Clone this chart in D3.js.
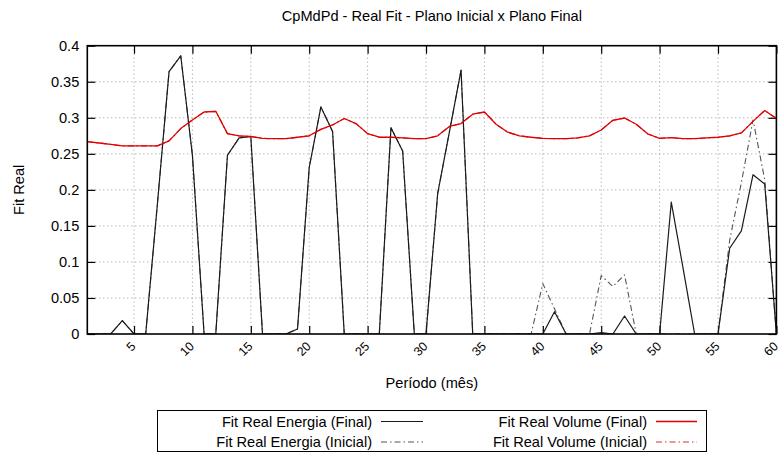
<!DOCTYPE html>
<html>
<head>
<meta charset="utf-8">
<script src="https://cdn.jsdelivr.net/npm/d3@7/dist/d3.min.js"></script>
<style>
  html, body { margin: 0; padding: 0; background: #fff; }
  svg { display: block; font-family: "Liberation Sans", Arial, Helvetica, sans-serif; }
</style>
</head>
<body>
<svg id="chart" width="780" height="454"></svg>
<script>
// ---- data ----
const months = d3.range(1, 61);
const energiaFinal = [
  0, 0, 0, 0.0185, 0, 0, 0.18, 0.364, 0.386, 0.248,
  0, 0, 0.248, 0.272, 0.274, 0, 0, 0, 0.007, 0.231,
  0.315, 0.281, 0, 0, 0, 0, 0.286, 0.254, 0, 0,
  0.195, 0.28, 0.366, 0, 0, 0, 0, 0, 0, 0,
  0.031, 0, 0, 0, 0.002, 0, 0.025, 0, 0, 0,
  0.183, 0.092, 0, 0, 0, 0.119, 0.143, 0.221, 0.208, 0
];
const energiaInicial = [
  0, 0, 0, 0.0185, 0, 0, 0.18, 0.364, 0.386, 0.248,
  0, 0, 0.248, 0.272, 0.274, 0, 0, 0, 0.007, 0.231,
  0.315, 0.281, 0, 0, 0, 0, 0.286, 0.254, 0, 0,
  0.195, 0.28, 0.366, 0, 0, 0, 0, 0, 0, 0.07,
  0.035, 0, 0, 0, 0.081, 0.066, 0.082, 0, 0, 0,
  0, 0, 0, 0, 0, 0.13, 0.21, 0.297, 0.214, 0
];
const volumeFinal = [
  0.267, 0.265, 0.263, 0.261, 0.261, 0.261, 0.261, 0.268, 0.285, 0.297,
  0.308, 0.309, 0.278, 0.275, 0.274, 0.2715, 0.271, 0.271, 0.273, 0.275,
  0.284, 0.29, 0.299, 0.292, 0.278, 0.273, 0.273, 0.272, 0.271, 0.271,
  0.275, 0.288, 0.292, 0.305, 0.308, 0.291, 0.28, 0.275, 0.273, 0.2715,
  0.271, 0.271, 0.272, 0.275, 0.283, 0.2965, 0.2997, 0.291, 0.2775, 0.2715,
  0.2725, 0.271, 0.271, 0.272, 0.273, 0.275, 0.279, 0.295, 0.31, 0.299
];
const volumeInicial = [
  0.267, 0.265, 0.263, 0.261, 0.261, 0.261, 0.261, 0.268, 0.285, 0.297,
  0.308, 0.309, 0.278, 0.275, 0.274, 0.2715, 0.271, 0.271, 0.273, 0.275,
  0.284, 0.29, 0.299, 0.292, 0.278, 0.273, 0.273, 0.272, 0.271, 0.271,
  0.275, 0.288, 0.292, 0.305, 0.308, 0.291, 0.28, 0.275, 0.273, 0.2715,
  0.271, 0.271, 0.272, 0.275, 0.283, 0.2965, 0.2997, 0.291, 0.2775, 0.2715,
  0.2725, 0.271, 0.271, 0.272, 0.273, 0.275, 0.279, 0.295, 0.31, 0.299
];
const xTicks = [5, 10, 15, 20, 25, 30, 35, 40, 45, 50, 55, 60];
const yTicks = [0, 0.05, 0.1, 0.15, 0.2, 0.25, 0.3, 0.35, 0.4];
const yTickLabels = ["0", "0.05", "0.1", "0.15", "0.2", "0.25", "0.3", "0.35", "0.4"];
const seriesNames = ["Fit Real Energia (Final)", "Fit Real Volume (Final)", "Fit Real Energia (Inicial)", "Fit Real Volume (Inicial)"];
const titleText = "CpMdPd - Real Fit - Plano Inicial x Plano Final";
const xLabel = "Período (mês)";
const yLabel = "Fit Real";

// ---- layout ----
const svg = d3.select("#chart");
const L = 87.3, R = 776.4, T = 45.7, B = 334;
const FONT = 14.6;
const x = d3.scaleLinear().domain([1, 60]).range([L, R]);
const y = d3.scaleLinear().domain([0, 0.4]).range([B, T]);

const styles = [
  { data: energiaFinal,   color: "#1a1a1a", width: 1.2, dash: null },
  { data: volumeFinal,    color: "#e00000", width: 1.3, dash: null },
  { data: energiaInicial, color: "#555555", width: 1.1, dash: "6,3,1.5,3" },
  { data: volumeInicial,  color: "#d83030", width: 1.2, dash: "6,3,1.5,3" }
];

// grid
const grid = svg.append("g");
grid.selectAll("line.gy").data(yTicks.slice(1, -1)).enter().append("line")
  .attr("x1", L).attr("x2", R).attr("y1", d => y(d)).attr("y2", d => y(d))
  .attr("stroke", "#9a9a9a").attr("stroke-width", 1).attr("stroke-dasharray", "1,3");
grid.selectAll("line.gx").data(xTicks.filter(d => d < 60)).enter().append("line")
  .attr("y1", T).attr("y2", B).attr("x1", d => x(d)).attr("x2", d => x(d))
  .attr("stroke", "#9a9a9a").attr("stroke-width", 1).attr("stroke-dasharray", "1,3");

// axes with inward ticks (mirrored)
const tickLen = 8;
const axL = svg.append("g").attr("transform", `translate(${L},0)`)
  .call(d3.axisRight(y).tickValues(yTicks).tickSize(tickLen).tickFormat(""));
const axR = svg.append("g").attr("transform", `translate(${R},0)`)
  .call(d3.axisLeft(y).tickValues(yTicks).tickSize(tickLen).tickFormat(""));
const axB = svg.append("g").attr("transform", `translate(0,${B})`)
  .call(d3.axisTop(x).tickValues(xTicks).tickSize(tickLen).tickFormat(""));
const axT = svg.append("g").attr("transform", `translate(0,${T})`)
  .call(d3.axisBottom(x).tickValues(xTicks).tickSize(tickLen).tickFormat(""));
[axL, axR, axB, axT].forEach(a => {
  a.select(".domain").remove();
  a.selectAll(".tick line").attr("stroke", "#000").attr("stroke-width", 1.2);
});

// y tick labels
svg.append("g").selectAll("text").data(yTicks).enter().append("text")
  .attr("x", L - 8).attr("y", d => y(d)).attr("dy", "0.36em")
  .attr("text-anchor", "end").attr("font-size", FONT).attr("fill", "#000")
  .text((d, i) => yTickLabels[i]);

// x tick labels (rotated)
svg.append("g").selectAll("text").data(xTicks).enter().append("text")
  .attr("transform", d => `translate(${x(d) + 2.5},${B + 13}) rotate(-45)`)
  .attr("text-anchor", "end").attr("font-size", 12.5).attr("fill", "#000")
  .text(d => d);

// lines
const clipId = "plotclip";
svg.append("clipPath").attr("id", clipId).append("rect")
  .attr("x", L).attr("y", T - 2).attr("width", R - L).attr("height", B - T + 2);
const line = d3.line().x((d, i) => x(months[i])).y(d => y(d));
const drawOrder = [2, 3, 0, 1];
const lines = svg.append("g").attr("clip-path", `url(#${clipId})`);
drawOrder.forEach(k => {
  const s = styles[k];
  lines.append("path").datum(s.data).attr("d", line)
    .attr("fill", "none").attr("stroke", s.color).attr("stroke-width", s.width)
    .attr("stroke-linejoin", "round")
    .attr("stroke-dasharray", s.dash);
});

// frame
svg.append("rect").attr("x", L).attr("y", T).attr("width", R - L).attr("height", B - T)
  .attr("fill", "none").attr("stroke", "#000").attr("stroke-width", 1.6);

// title & labels
svg.append("text").attr("x", (L + R) / 2).attr("y", 21).attr("text-anchor", "middle")
  .attr("font-size", FONT).text(titleText);
svg.append("text").attr("x", (L + R) / 2).attr("y", 388).attr("text-anchor", "middle")
  .attr("font-size", FONT).text(xLabel);
svg.append("text").attr("transform", `translate(24,${(T + B) / 2}) rotate(-90)`)
  .attr("text-anchor", "middle").attr("font-size", FONT).text(yLabel);

// legend
const lg = svg.append("g");
lg.append("rect").attr("x", 157.5).attr("y", 410.5).attr("width", 549).attr("height", 41)
  .attr("fill", "#fff").attr("stroke", "#000").attr("stroke-width", 1);
const legendPos = [
  { tx: 372, ly: 421.5, x1: 381, x2: 423 },
  { tx: 647, ly: 421.5, x1: 656, x2: 697 },
  { tx: 372, ly: 442, x1: 381, x2: 423 },
  { tx: 647, ly: 442, x1: 656, x2: 697 }
];
seriesNames.forEach((name, k) => {
  const p = legendPos[k], s = styles[k];
  lg.append("text").attr("x", p.tx).attr("y", p.ly).attr("dy", "0.35em")
    .attr("text-anchor", "end").attr("font-size", FONT).text(name);
  lg.append("line").attr("x1", p.x1).attr("x2", p.x2).attr("y1", p.ly).attr("y2", p.ly)
    .attr("stroke", s.color).attr("stroke-width", s.width).attr("stroke-dasharray", s.dash);
});
</script>
</body>
</html>
